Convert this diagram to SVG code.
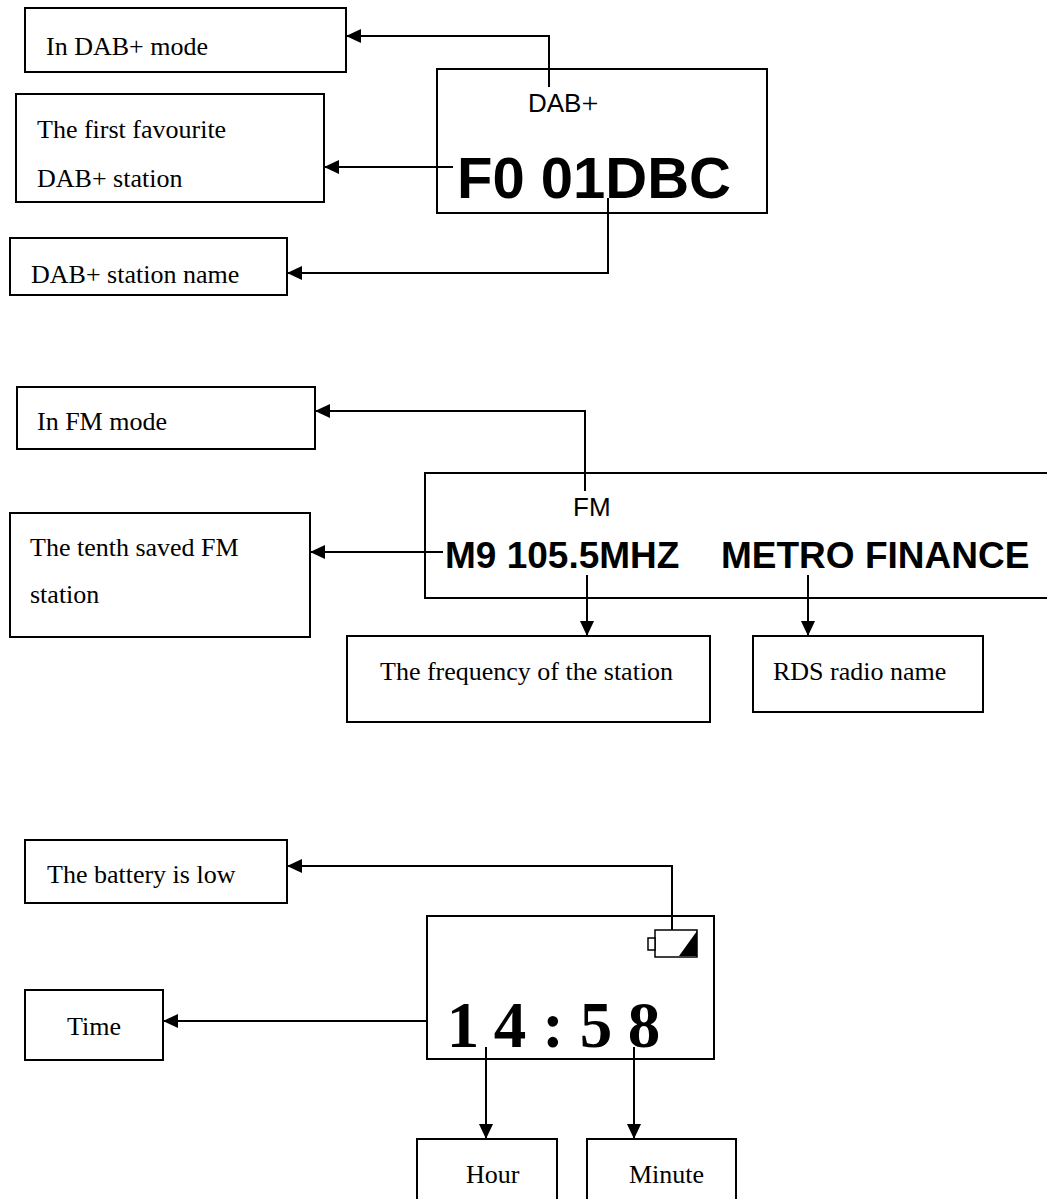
<svg xmlns="http://www.w3.org/2000/svg" width="1047" height="1199" viewBox="0 0 1047 1199">
<style>
.box{fill:#fff;stroke:#000;stroke-width:2}
.lbl{font-family:"Liberation Serif","Times New Roman",serif;font-size:26px;fill:#000}
.lcd{font-family:"Liberation Sans",Arial,sans-serif;fill:#000}
.conn{fill:none;stroke:#000;stroke-width:2;marker-end:url(#ah)}
</style>
<defs>
<marker id="ah" markerUnits="userSpaceOnUse" markerWidth="16" markerHeight="14" refX="15" refY="7" orient="auto">
<path d="M0,0 L15,7 L0,14 z" fill="#000"/>
</marker>
</defs>
<rect width="1047" height="1199" fill="#fff"/>

<!-- Section 1: DAB+ -->
<g id="dab-mode"><rect class="box" x="25" y="8" width="321" height="64"/><text class="lbl" x="46" y="55">In DAB+ mode</text></g>
<g id="dab-fav"><rect class="box" x="16" y="94" width="308" height="108"/><text class="lbl" x="37" y="138">The first favourite</text><text class="lbl" x="37" y="187">DAB+ station</text></g>
<g id="dab-name"><rect class="box" x="10" y="238" width="277" height="57"/><text class="lbl" x="31" y="283">DAB+ station name</text></g>
<g id="dab-display"><rect class="box" x="437" y="69" width="330" height="144"/>
<text class="lcd" x="528" y="112" font-size="26">DAB<tspan font-family="'Liberation Serif','Times New Roman',serif" font-size="30" dy="1">+</tspan></text>
<text class="lcd" x="457" y="198" font-size="58" font-weight="bold">F0 01DBC</text></g>

<!-- Section 2: FM -->
<g id="fm-mode"><rect class="box" x="17" y="387" width="298" height="62"/><text class="lbl" x="37" y="430">In FM mode</text></g>
<g id="fm-tenth"><rect class="box" x="10" y="513" width="300" height="124"/><text class="lbl" x="30" y="556">The tenth saved FM</text><text class="lbl" x="30" y="603">station</text></g>
<g id="fm-freq"><rect class="box" x="347" y="636" width="363" height="86"/><text class="lbl" x="380" y="680">The frequency of the station</text></g>
<g id="fm-rds"><rect class="box" x="753" y="636" width="230" height="76"/><text class="lbl" x="773" y="680">RDS radio name</text></g>
<g id="fm-display"><rect class="box" x="425" y="473" width="640" height="125"/>
<text class="lcd" x="573" y="516" font-size="26">FM</text>
<text class="lcd" x="445" y="568" font-size="37" font-weight="bold">M9 105.5MHZ</text>
<text class="lcd" x="721" y="568" font-size="37" font-weight="bold">METRO FINANCE</text></g>

<!-- Section 3: Clock -->
<g id="battery-low"><rect class="box" x="25" y="840" width="262" height="63"/><text class="lbl" x="47" y="883">The battery is low</text></g>
<g id="time"><rect class="box" x="25" y="990" width="138" height="70"/><text class="lbl" x="67" y="1035">Time</text></g>
<g id="hour"><rect class="box" x="417" y="1139" width="140" height="80"/><text class="lbl" x="466" y="1183">Hour</text></g>
<g id="minute"><rect class="box" x="587" y="1139" width="149" height="80"/><text class="lbl" x="629" y="1183">Minute</text></g>
<g id="clock-display"><rect class="box" x="427" y="916" width="287" height="143"/>
<rect x="655" y="930" width="42" height="27" fill="#fff" stroke="#000" stroke-width="1.5"/>
<rect x="648" y="938" width="7" height="12" fill="#fff" stroke="#000" stroke-width="1.5"/>
<polygon points="679,956 697,931 697,956" fill="#000"/>
<text font-family="'Liberation Serif','Times New Roman',serif" font-weight="bold" font-size="65" text-anchor="middle" x="463 510 553 596 644" y="1047">14:58</text></g>

<g id="connectors">
<path class="conn" d="M549,87 V36 H346"/>
<path class="conn" d="M453,167 H324"/>
<path class="conn" d="M608,198 V273 H287"/>
<path class="conn" d="M585,491 V411 H315"/>
<path class="conn" d="M443,552 H310"/>
<path class="conn" d="M587,575 V636"/>
<path class="conn" d="M808,575 V636"/>
<path class="conn" d="M672,930 V866 H287"/>
<path class="conn" d="M427,1021 H163"/>
<path class="conn" d="M486,1047 V1139"/>
<path class="conn" d="M634,1047 V1139"/>
</g>
</svg>
